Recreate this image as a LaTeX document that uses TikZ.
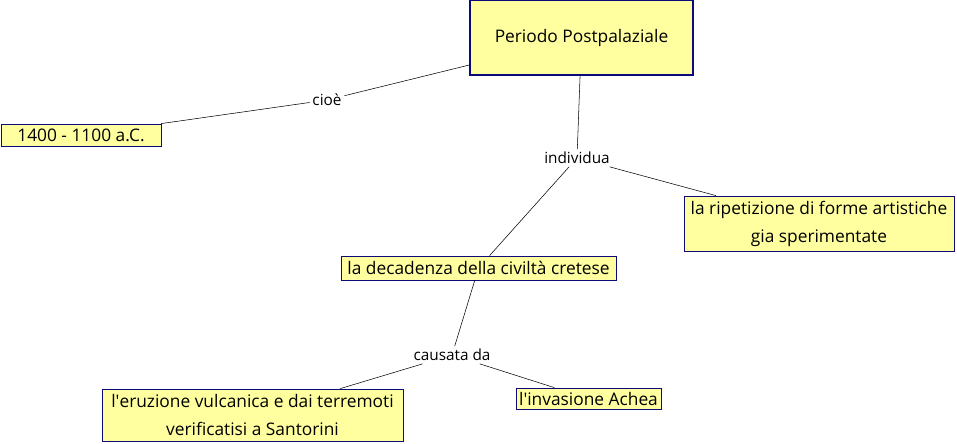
\documentclass[tikz,border=0pt]{standalone}
\usepackage{fontspec}
\setmainfont{Open Sans}
\definecolor{cfill}{RGB}{255,255,160}
\definecolor{cline}{RGB}{10,10,120}
\begin{document}
\begin{tikzpicture}[x=0.75pt,y=-0.75pt,
  concept/.style={draw=cline,fill=cfill,line width=0.6pt,inner sep=0pt,align=center,
    font=\fontsize{13}{21}\selectfont},
  link/.style={inner sep=2pt,font=\fontsize{11.5}{13}\selectfont}]
\useasboundingbox (0,0) rectangle (957,443);
% concepts
\node[concept,minimum width=167.25pt,minimum height=56.25pt,line width=1pt] (periodo) at (581.5,37.5) {Periodo Postpalaziale};
\node[concept,minimum width=120pt,minimum height=16.5pt] (date) at (81,135) {1400 - 1100 a.C.};
\node[concept,minimum width=202.5pt,minimum height=41.25pt] (forme) at (819,223.5) {la ripetizione di forme artistiche\\gia sperimentate};
\node[concept,minimum width=206.25pt,minimum height=18pt] (decad) at (478.5,268) {la decadenza della civiltà cretese};
\node[concept,minimum width=225.75pt,minimum height=39pt] (eruz) at (252.5,415) {l\textquotesingle eruzione vulcanica e dai terremoti\\verificatisi a Santorini};
\node[concept,minimum width=108.75pt,minimum height=15.75pt] (achea) at (588.5,398.5) {l\textquotesingle invasione Achea};
% linking phrases
\node[link] (cioe) at (327,100) {cioè};
\node[link] (indiv) at (577,158) {individua};
\node[link] (causa) at (452,355) {causata da};
% connectors
\draw (periodo) -- (cioe) -- (date);
\draw (periodo) -- (indiv);
\draw (indiv) -- (decad);
\draw (indiv) -- (forme);
\draw (decad) -- (causa);
\draw (causa) -- (eruz);
\draw (causa) -- (achea);
\end{tikzpicture}
\end{document}
